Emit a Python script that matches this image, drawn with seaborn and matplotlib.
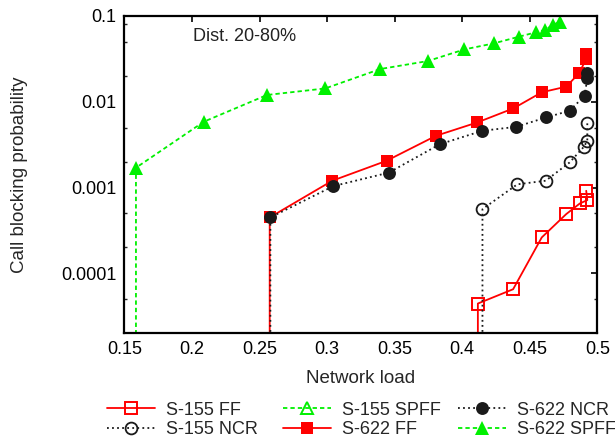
import numpy as np
import pandas as pd
import matplotlib
matplotlib.use("Agg")
import matplotlib.pyplot as plt
import matplotlib.ticker as mticker
import seaborn as sns

sns.set_theme(style="white")
plt.rcParams['font.family'] = ['Liberation Sans', 'DejaVu Sans']

BOTTOM = 1e-9  # value below the axis (gnuplot-style drop to the x axis)

# S-155 FF (open red squares)
s155ff_x = [0.4116, 0.4116, 0.4377, 0.4589, 0.4770, 0.4871, 0.4926, 0.4918]
s155ff_y = [BOTTOM, 4.44e-5, 6.52e-5, 2.62e-4, 4.9e-4, 6.52e-4, 7.13e-4, 9.16e-4]

# S-155 NCR (open black circles)
s155ncr_x = [0.4150, 0.4150, 0.4408, 0.4618, 0.4795, 0.4901, 0.4926, 0.4926]
s155ncr_y = [BOTTOM, 5.6e-4, 1.09e-3, 1.2e-3, 1.96e-3, 2.99e-3, 3.51e-3, 5.6e-3]

# S-155 SPFF (open green triangles) - no visible points
s155spff_x = []
s155spff_y = []

# S-622 FF (filled red squares)
s622ff_x = [0.2575, 0.2575, 0.3038, 0.3440, 0.3806, 0.4113, 0.4379, 0.4589, 0.4770, 0.4864, 0.4918, 0.4918]
s622ff_y = [BOTTOM, 4.48e-4, 1.2e-3, 2.05e-3, 4.01e-3, 5.75e-3, 8.37e-3, 1.29e-2, 1.5e-2, 2.14e-2, 3.15e-2, 3.6e-2]

# S-622 NCR (filled black circles)
s622ncr_x = [0.2580, 0.2580, 0.3047, 0.3456, 0.3835, 0.4150, 0.4400, 0.4623, 0.4795, 0.4906, 0.4926, 0.4926]
s622ncr_y = [BOTTOM, 4.48e-4, 1.04e-3, 1.49e-3, 3.2e-3, 4.59e-3, 5.1e-3, 6.58e-3, 7.85e-3, 1.175e-2, 1.87e-2, 2.18e-2]

# S-622 SPFF (filled green triangles)
s622spff_x = [0.1585, 0.1585, 0.2087, 0.2555, 0.2986, 0.3394, 0.3744, 0.4017, 0.4236, 0.4421, 0.4544, 0.4610, 0.4672, 0.4721]
s622spff_y = [BOTTOM, 1.7e-3, 5.85e-3, 1.2e-2, 1.43e-2, 2.41e-2, 2.98e-2, 4.08e-2, 4.8e-2, 5.74e-2, 6.45e-2, 6.87e-2, 7.85e-2, 8.58e-2]

x_ticks = [0.15, 0.2, 0.25, 0.3, 0.35, 0.4, 0.45, 0.5]
x_tick_labels = ["0.15", "0.2", "0.25", "0.3", "0.35", "0.4", "0.45", "0.5"]
y_ticks = [0.0001, 0.001, 0.01, 0.1]
y_tick_labels = ["0.0001", "0.001", "0.01", "0.1"]
y_minor = [5e-5, 2e-4, 5e-4, 2e-3, 5e-3, 2e-2, 5e-2, 8e-2]

RED = "#ff0000"
GREEN = "#00f000"
BLACK = "#1a1a1a"
GDASH = (2.4, 1.7)
DOT = (1.0, 1.8)

fig = plt.figure(figsize=(6.15, 4.37), dpi=100)
ax = fig.add_axes([0.2024, 0.2387, 0.9712 - 0.2024, 0.9634 - 0.2387])

series = [
    ("S-155 FF", s155ff_x, s155ff_y, dict(color=RED, marker="s", markersize=9,
                                         markerfacecolor="none", markeredgecolor=RED, markeredgewidth=1.4)),
    ("S-155 NCR", s155ncr_x, s155ncr_y, dict(color=BLACK, dashes=DOT, marker="o", markersize=8.5,
                                            markerfacecolor="none", markeredgecolor=BLACK, markeredgewidth=1.3)),
    ("S-155 SPFF", s155spff_x, s155spff_y, dict(color=GREEN, dashes=GDASH, marker="^", markersize=9,
                                               markerfacecolor="none", markeredgecolor=GREEN, markeredgewidth=1.4)),
    ("S-622 FF", s622ff_x, s622ff_y, dict(color=RED, marker="s", markersize=9.3,
                                         markerfacecolor=RED, markeredgecolor=RED, markeredgewidth=0)),
    ("S-622 NCR", s622ncr_x, s622ncr_y, dict(color=BLACK, dashes=DOT, marker="o", markersize=9.3,
                                            markerfacecolor=BLACK, markeredgecolor=BLACK, markeredgewidth=0)),
    ("S-622 SPFF", s622spff_x, s622spff_y, dict(color=GREEN, dashes=GDASH, marker="^", markersize=9.5,
                                               markerfacecolor=GREEN, markeredgecolor=GREEN, markeredgewidth=0)),
]

handles = {}
for name, xs, ys, style in series:
    if len(xs) > 0:
        df = pd.DataFrame({"x": xs, "y": ys})
        sns.lineplot(data=df, x="x", y="y", ax=ax, estimator=None, sort=False,
                     label=name, linewidth=1.3, **style)
        handles[name] = ax.get_lines()[-1]
    else:
        handles[name], = ax.plot([], [], label=name, linewidth=1.3, **style)

ax.set_yscale("log")
ax.set_xlim(0.15, 0.5)
ax.set_ylim(2.03e-5, 0.1)
ax.set_xticks(x_ticks)
ax.set_xticklabels(x_tick_labels)
ax.yaxis.set_major_locator(mticker.FixedLocator(y_ticks))
ax.yaxis.set_major_formatter(mticker.FixedFormatter(y_tick_labels))
ax.yaxis.set_minor_locator(mticker.FixedLocator(y_minor))
ax.yaxis.set_minor_formatter(mticker.NullFormatter())

ax.tick_params(axis="both", which="major", direction="in", length=4.5, width=1.2,
               top=True, right=True, labelsize=13, colors="black", pad=6)
ax.tick_params(axis="y", which="minor", direction="in", length=2.5, width=1.0,
               left=True, right=True)
for sp in ax.spines.values():
    sp.set_linewidth(1.6)
    sp.set_color("black")

ax.set_xlabel("Network load", fontsize=13.5)
ax.set_ylabel("Call blocking probability", fontsize=13.5)
ax.xaxis.set_label_coords(0.5, -0.117)
ax.yaxis.set_label_coords(-0.205, 0.5)
ax.text(0.144, 0.934, "Dist. 20-80%", transform=ax.transAxes, fontsize=13,
        ha="left", va="center", color="#222222")
ax.grid(False)

if ax.get_legend() is not None:
    ax.get_legend().remove()

legend_cols = [
    (["S-155 FF", "S-155 NCR"], 106.7),
    (["S-155 SPFF", "S-622 FF"], 282.7),
    (["S-622 NCR", "S-622 SPFF"], 458.0),
]
for names, xpix in legend_cols:
    leg = fig.legend([handles[n] for n in names], names, loc="center left",
                     bbox_to_anchor=(xpix / 615, 1 - 420 / 437), ncol=1,
                     frameon=False, fontsize=13, handlelength=2.65, handletextpad=0.62,
                     labelspacing=0.14, borderpad=0, borderaxespad=0)

fig.savefig("out.png", dpi=100)
